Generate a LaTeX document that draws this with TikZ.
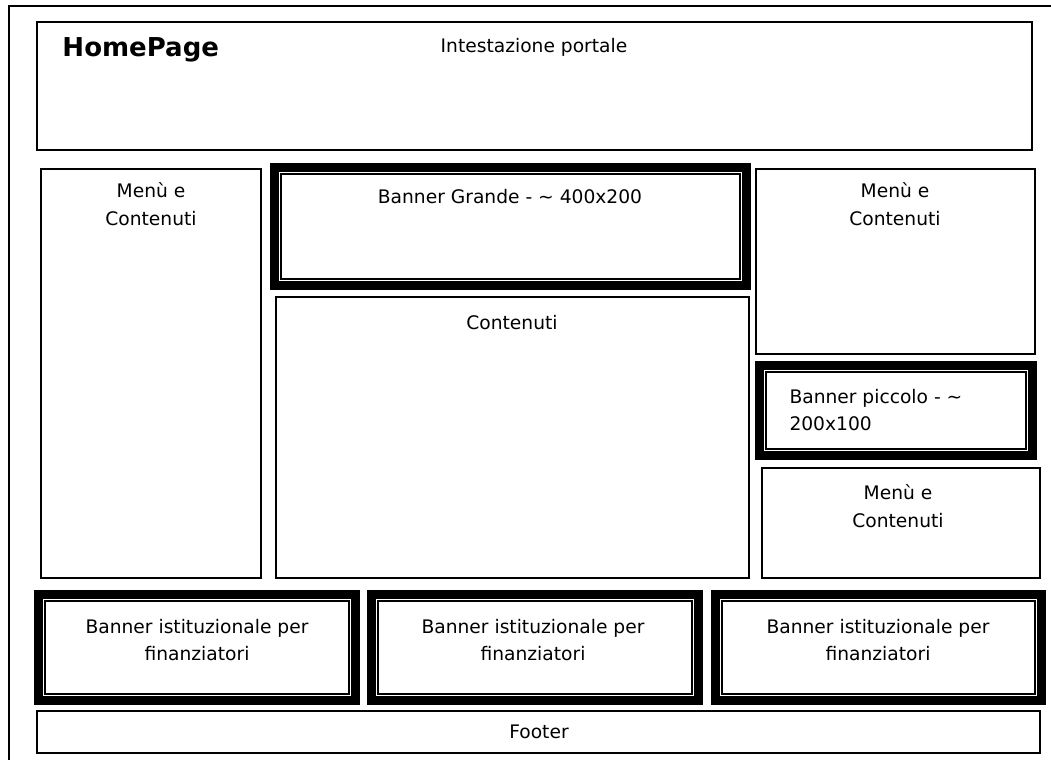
\documentclass[tikz,border=0pt]{standalone}
\usepackage{fontspec}
\setmainfont{DejaVu Sans}

\tikzset{every picture/.style={line width=0.75pt}}
\tikzset{
  box/.style={line width=1.5pt},
  band/.style={line width=6.75pt},
  txt/.style={font=\fontsize{14}{20.5}\selectfont, align=center, inner sep=0pt}
}

\begin{document}
\begin{tikzpicture}[x=0.75pt,y=0.75pt,yscale=-1,xscale=1]
\useasboundingbox (0,0) rectangle (1051,760);

%Outer frame
\draw [box] (1051,6) -- (9,6) -- (9,760) ;

%Rectangle: header
\draw [box] (37,22) rectangle (1032,150) ;
%Rectangle: left menu
\draw [box] (41,169) rectangle (261,578) ;
%Banner: big
\draw [band] (274.5,167.5) rectangle (746.5,285.5) ;
\draw [box] (281,174) rectangle (740,279) ;
%Rectangle: contents
\draw [box] (276,297) rectangle (749,578) ;
%Rectangle: right menu
\draw [box] (756,169) rectangle (1035,354) ;
%Banner: small
\draw [band] (759.5,365.5) rectangle (1032.5,455.5) ;
\draw [box] (766,372) rectangle (1026,449) ;
%Rectangle: right menu, lower
\draw [box] (762,468) rectangle (1040,578) ;
%Banners: sponsors
\draw [band] (38.5,594.5) rectangle (355.5,700.5) ;
\draw [box] (45,601) rectangle (349,694) ;
\draw [band] (371.5,594.5) rectangle (698.5,700.5) ;
\draw [box] (378,601) rectangle (692,694) ;
\draw [band] (715.5,594.5) rectangle (1041.5,700.5) ;
\draw [box] (722,601) rectangle (1035,694) ;
%Rectangle: footer
\draw [box] (37,711) rectangle (1040,753) ;

% Text Node
\node (home) [anchor=west, inner sep=0pt, font=\fontsize{19.5}{23}\selectfont\bfseries] at (62,50) {HomePage};
% Text Node
\node (head) [txt] at (534,47) {Intestazione portale};
% Text Node
\node (menuL) [txt] at (151,204) {Menù e\\Contenuti};
% Text Node
\node (bigban) [txt] at (510,197) {Banner Grande - \textasciitilde{} 400x200};
% Text Node
\node (cont) [txt] at (512,323) {Contenuti};
% Text Node
\node (menuR) [txt] at (895,204) {Menù e\\Contenuti};
% Text Node
\node (smallban) [txt, align=left, anchor=west] at (789,410) {Banner piccolo - \textasciitilde\\200x100};
% Text Node
\node (menuRb) [txt] at (898,506) {Menù e\\Contenuti};
% Text Node
\node (inst1) [txt] at (197,640) {Banner istituzionale per\\finanziatori};
% Text Node
\node (inst2) [txt] at (533,640) {Banner istituzionale per\\finanziatori};
% Text Node
\node (inst3) [txt] at (878,640) {Banner istituzionale per\\finanziatori};
% Text Node
\node (foot) [txt] at (539,732) {Footer};

\end{tikzpicture}
\end{document}
